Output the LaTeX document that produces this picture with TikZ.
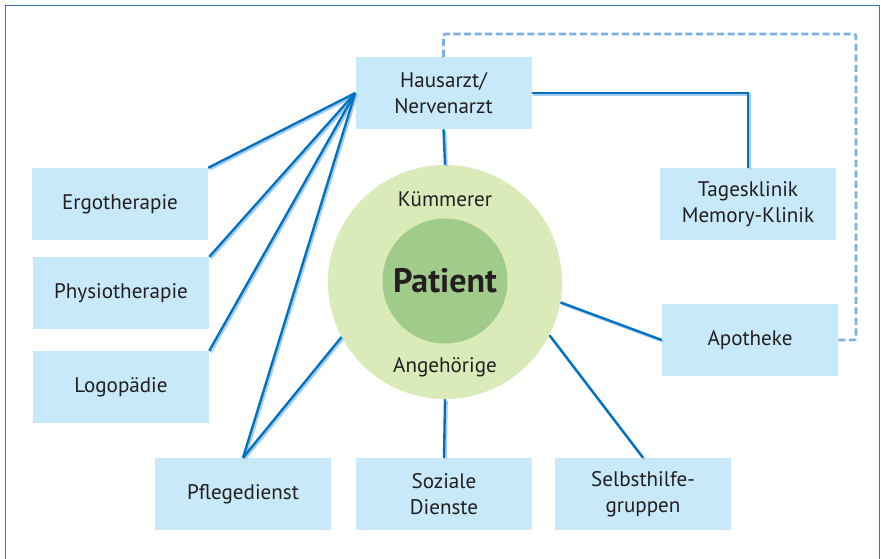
\documentclass[tikz,border=0pt]{standalone}
\usepackage{fontspec}
\setmainfont{PT Sans}
\usepackage{tikz}
\usetikzlibrary{calc}
\usetikzlibrary{positioning}

\definecolor{boxBlue}{RGB}{199,233,250}
\definecolor{lineBlue}{RGB}{0,112,192}
\definecolor{shadeBlue}{RGB}{165,205,238}
\definecolor{dashBlue}{RGB}{122,176,228}
\definecolor{frameBlue}{RGB}{62,112,182}
\definecolor{ringGreen}{RGB}{218,234,185}
\definecolor{coreGreen}{RGB}{161,203,139}
\definecolor{inkGray}{RGB}{35,31,32}

\tikzset{
  careBox/.style={rectangle, fill=boxBlue, text=inkGray, minimum width=5.28cm, minimum height=2.16cm,
    inner sep=0pt, align=center, font=\fontsize{18}{22}\selectfont},
  link/.style={draw=lineBlue, line width=2pt,
    preaction={draw=shadeBlue, line width=2pt, transform canvas={shift={(1.4pt,-1.4pt)}}}},
  dashLink/.style={draw=dashBlue, line width=2.2pt, dash pattern=on 6pt off 3pt, rounded corners=2pt},
}

\begin{document}
\begin{tikzpicture}[x=0.03cm, y=-0.03cm]
      \useasboundingbox (0,0) rectangle (881,558) ;
      \draw [frameBlue, line width=0.9pt] (5.5,560) -- (5.5,5.5) -- (879.5,5.5) -- (879.5,560) ;
      % patient in the middle
      \node[circle, fill=ringGreen, minimum size=7.02cm, inner sep=0pt] (patRing) at (445,282) {} ;
      \node[circle, fill=coreGreen, minimum size=3.75cm, inner sep=0pt] (patCore) at (445,281) {} ;
      \node[text=inkGray, font=\fontsize{29}{34}\selectfont\bfseries] (patient) at (patCore) {Patient} ;
      \node[text=inkGray, font=\fontsize{18}{22}\selectfont] (kuemmerer) at (445,199) {Kümmerer} ;
      \node[text=inkGray, font=\fontsize{18}{22}\selectfont] (angehoerige) at (445,367) {Angehörige} ;
      % boxes
      \node[careBox] (hausArzt) at (443.5,93) {Hausarzt/\\Nervenarzt} ;
      \node[careBox] (ergo) at (120,204) {Ergotherapie} ;
      \node[careBox] (physio) at (121,293) {Physiotherapie} ;
      \node[careBox] (logo) at (121,387) {Logopädie} ;
      \node[careBox] (pflege) at (243,494) {Pflegedienst} ;
      \node[careBox] (sozDienste) at (444,494) {Soziale\\Dienste} ;
      \node[careBox] (selbstHilfe) at (643,494) {Selbsthilfe-\\gruppen} ;
      \node[careBox] (apotheke) at (750,340) {Apotheke} ;
      \node[careBox] (tagesKlinik) at (748,204) {Tagesklinik\\Memory-Klinik} ;
      \coordinate (dashTop) at (856,34) ;
      % connections
      \draw [link] (hausArzt.west) -- (ergo.north east) ;
      \draw [link] (hausArzt.west) -- (physio.north east) ;
      \draw [link] (hausArzt.west) -- (logo.north east) ;
      \draw [link] (hausArzt.west) -- (pflege.north) ;
      \draw [link] (patRing.208) -- (pflege.north) ;
      \draw [link] (hausArzt.south) -- (patRing.north) ;
      \draw [link] (hausArzt.east) -| (tagesKlinik.north) ;
      \draw [link] (patRing.-10) -- (apotheke.west) ;
      \draw [link] (patRing.-27) -- (selbstHilfe.north) ;
      \draw [link] (patRing.south) -- (sozDienste.north) ;
      \draw [dashLink] (hausArzt.north) |- (dashTop) |- (apotheke.east) ;
    \end{tikzpicture}
\end{document}
